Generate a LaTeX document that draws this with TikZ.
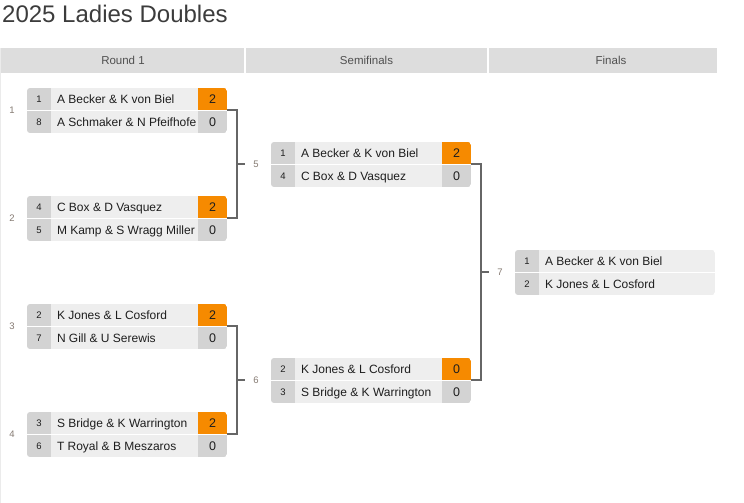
\documentclass[tikz,border=0pt]{standalone}
\usepackage{fontspec}
\setmainfont{Liberation Sans}
\usetikzlibrary{calc}
\definecolor{hdr}{HTML}{DDDDDD}
\definecolor{seedc}{HTML}{D3D3D3}
\definecolor{namec}{HTML}{EEEEEE}
\definecolor{winc}{HTML}{F68A00}
\definecolor{losec}{HTML}{D3D3D3}
\definecolor{linec}{HTML}{666666}
\definecolor{txt}{HTML}{1E1E1E}
\definecolor{hdrtxt}{HTML}{505050}
\definecolor{lblc}{HTML}{857A72}
\definecolor{titlec}{HTML}{3C3C3C}
\definecolor{edgec}{HTML}{EBEBEB}
\tikzset{
  cell/.style={anchor=north west, minimum height=22pt, inner sep=0pt, outer sep=0pt, text=txt},
  seedcell/.style={cell, fill=seedc, minimum width=24pt, font=\fontsize{9.5}{9.5}\selectfont, text height=6.8pt, text depth=0pt},
  namecell/.style={cell, fill=namec, minimum width=#1, inner xsep=6pt, font=\fontsize{12}{12}\selectfont, text height=8.6pt, text depth=0pt},
  scorecell/.style={cell, fill=#1, minimum width=29pt, font=\fontsize{12.5}{12.5}\selectfont, text height=9pt, text depth=0pt},
  conn/.style={draw=linec, line width=2.2pt},
  lbl/.style={text=lblc, font=\fontsize{9.5}{9.5}\selectfont, inner sep=0pt},
  hdrlabel/.style={text=hdrtxt, font=\fontsize{11.5}{11.5}\selectfont, inner sep=0pt},
}
% #1 node prefix, #2 x, #3 y (top), #4 seed, #5 team, #6 score, #7 score colour
\newcommand\bkrow[7]{%
  \node[seedcell] (#1-seed) at (#2,#3) {#4};
  \node[namecell=147pt] (#1-name) at (#1-seed.north east) {\makebox[135pt][l]{#5}};
  \node[scorecell=#7] (#1-score) at (#1-name.north east) {#6};
}
% final row: no score
\newcommand\bkfinalrow[5]{%
  \node[seedcell] (#1-seed) at (#2,#3) {#4};
  \node[namecell=176pt] (#1-name) at (#1-seed.north east) {\makebox[164pt][l]{#5}};
}
\newcommand\bkclip[2]{\clip[rounded corners=3pt] (#1,#2) rectangle ++(200,45);}
\begin{document}
\begin{tikzpicture}[x=1pt,y=-1pt]
  \useasboundingbox (0,0) rectangle (744,503);
  \fill[white] (0,0) rectangle (744,503);
  % title
  \node[anchor=base west, inner sep=0pt, text=titlec, font=\fontsize{24}{24}\selectfont] (title) at (2,23) {2025 Ladies Doubles};
  % left edge
  \fill[edgec] (0,48) rectangle (1.3,503);
  % headers
  \fill[hdr] (1,48) rectangle (244,73);
  \fill[hdr] (246,48) rectangle (487,73);
  \fill[hdr] (489,48) rectangle (717,73);
  \node[hdrlabel] (h1) at (123,60.5) {Round 1};
  \node[hdrlabel] (h2) at (366.5,60.5) {Semifinals};
  \node[hdrlabel] (h3) at (611,60.5) {Finals};

  % Round 1
  \begin{scope}\bkclip{27}{88}
    \bkrow{m1a}{27}{88}{1}{A Becker \& K von Biel}{2}{winc}
    \bkrow{m1b}{27}{111}{8}{A Schmaker \& N Pfeifhofe}{0}{losec}
  \end{scope}
  \begin{scope}\bkclip{27}{196}
    \bkrow{m2a}{27}{196}{4}{C Box \& D Vasquez}{2}{winc}
    \bkrow{m2b}{27}{219}{5}{M Kamp \& S Wragg Miller}{0}{losec}
  \end{scope}
  \begin{scope}\bkclip{27}{304}
    \bkrow{m3a}{27}{304}{2}{K Jones \& L Cosford}{2}{winc}
    \bkrow{m3b}{27}{327}{7}{N Gill \& U Serewis}{0}{losec}
  \end{scope}
  \begin{scope}\bkclip{27}{412}
    \bkrow{m4a}{27}{412}{3}{S Bridge \& K Warrington}{2}{winc}
    \bkrow{m4b}{27}{435}{6}{T Royal \& B Meszaros}{0}{losec}
  \end{scope}

  % Semifinals
  \begin{scope}\bkclip{271}{142}
    \bkrow{s1a}{271}{142}{1}{A Becker \& K von Biel}{2}{winc}
    \bkrow{s1b}{271}{165}{4}{C Box \& D Vasquez}{0}{losec}
  \end{scope}
  \begin{scope}\bkclip{271}{358}
    \bkrow{s2a}{271}{358}{2}{K Jones \& L Cosford}{0}{winc}
    \bkrow{s2b}{271}{381}{3}{S Bridge \& K Warrington}{0}{losec}
  \end{scope}

  % Final
  \begin{scope}\clip[rounded corners=3pt] (515,250) rectangle ++(200,45);
    \bkfinalrow{f1a}{515}{250}{1}{A Becker \& K von Biel}
    \bkfinalrow{f1b}{515}{273}{2}{K Jones \& L Cosford}
  \end{scope}

  % match number labels
  \node[lbl] (r1) at (12,110) {1};
  \node[lbl] (r2) at (12,218) {2};
  \node[lbl] (r3) at (12,326) {3};
  \node[lbl] (r4) at (12,434) {4};

  % connectors
  \draw[conn] (m1a-score.south east) -- ++(10,0) coordinate (j5) |- (m2a-score.south east);
  \draw[conn] (j5 |- s1a-seed.south west) -- ++(8,0) coordinate (e5);
  \node[lbl] (l5) at ($(j5 |- s1a-seed.south west)+(19,0)$) {5};

  \draw[conn] (m3a-score.south east) -- ++(10,0) coordinate (j6) |- (m4a-score.south east);
  \draw[conn] (j6 |- s2a-seed.south west) -- ++(8,0) coordinate (e6);
  \node[lbl] (l6) at ($(j6 |- s2a-seed.south west)+(19,0)$) {6};

  \draw[conn] (s1a-score.south east) -- ++(10,0) coordinate (j7) |- (s2a-score.south east);
  \draw[conn] (j7 |- f1a-seed.south west) -- ++(8,0) coordinate (e7);
  \node[lbl] (l7) at ($(j7 |- f1a-seed.south west)+(19,0)$) {7};
\end{tikzpicture}
\end{document}
